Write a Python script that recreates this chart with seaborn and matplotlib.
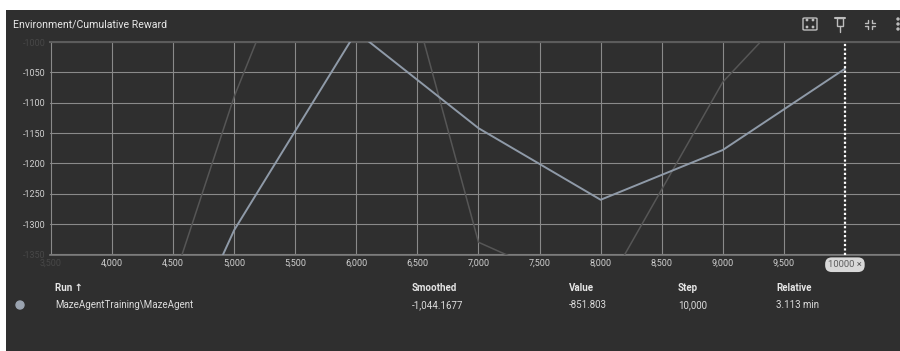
import pandas as pd
import seaborn as sns
import matplotlib.pyplot as plt
from matplotlib.patches import Rectangle, FancyBboxPatch, Ellipse
from matplotlib.lines import Line2D

# data
steps = [4000, 5000, 6000, 7000, 8000, 9000, 10000]
smoothed = [-1750, -1310, -983, -1142, -1260, -1178, -1044.1677]
raw = [-1700, -1090, -590, -1330, -1420, -1066, -851.803]
x_ticks = [3500, 4000, 4500, 5000, 5500, 6000, 6500, 7000, 7500, 8000, 8500, 9000, 9500]
y_ticks = [-1350, -1300, -1250, -1200, -1150, -1100, -1050, -1000]
table_header = ["Run \u2191", "Smoothed", "Value", "Step", "Relative"]
table_row = ["MazeAgentTraining\\MazeAgent", "-1,044.1677", "-851.803", "10,000", "3.113 min"]

df = pd.DataFrame({"step": steps, "smoothed": smoothed, "raw": raw})

sns.set_theme(style="dark")
plt.rcParams['font.family'] = ['Roboto', 'DejaVu Sans']

W, H = 900, 351
BG = "#2f2f2f"
GRID = "#8a8a8a"


def px(x, y):
    # pixel coords (top-left origin) -> figure fraction
    return x / W, 1 - y / H


def dot(x, y, r, color):
    fig.add_artist(Ellipse(px(x, y), 2 * r / W, 2 * r / H, transform=fig.transFigure,
                           color=color))


fig = plt.figure(figsize=(9, 3.51), dpi=100, facecolor="white")
fig.add_artist(Rectangle((6 / W, 0), 1, 1 - 10 / H, transform=fig.transFigure,
                         facecolor=BG, edgecolor="none", zorder=0))

ax = fig.add_axes([50 / W, 1 - 255 / H, 850 / W, 213 / H])
ax.set_facecolor(BG)

sns.lineplot(data=df, x="step", y="raw", ax=ax, color="#565656", lw=1.1, zorder=3)
sns.lineplot(data=df, x="step", y="smoothed", ax=ax, color="#8f9aa8", lw=1.4, zorder=4)

ax.set_xlim(3492, 10451)
ax.set_ylim(-1351, -1000.5)
ax.set_xticks(x_ticks)
ax.set_xticklabels([f"{t:,}" for t in x_ticks])
ax.set_yticks(y_ticks)
ax.set_yticklabels([str(t) for t in y_ticks])
ax.tick_params(axis="both", length=0, labelsize=6.5, colors="#d0d0d0", pad=3)
for lab in ax.get_xticklabels()[:1] + ax.get_yticklabels()[:1] + ax.get_yticklabels()[-1:]:
    lab.set_color("#474747")
ax.set_xlabel("")
ax.set_ylabel("")
ax.grid(True, color=GRID, lw=0.8)
for side in ["left", "right"]:
    ax.spines[side].set_visible(False)
ax.spines["top"].set_color("#5c5c5c")
ax.spines["top"].set_linewidth(1.5)
ax.spines["bottom"].set_color("#7a7a7a")
ax.spines["bottom"].set_linewidth(1.2)

# hover cursor at step 10000
ax.axvline(10000, color="white", ls=(0, (1, 1)), lw=1.6, zorder=5)
ax.text(10000, -1367, "10000 \u00d7", ha="center", va="center", fontsize=6.8,
        color="#5e5e5e", clip_on=False,
        bbox=dict(boxstyle="round,pad=0.3,rounding_size=0.7", fc="#d8d8d8", ec="none"))

# title
fig.text(*px(13, 24), "Environment/Cumulative Reward", fontsize=7.6, color="#e8e8e8",
         va="center", ha="left")

# toolbar icons
ic = "#bdbdbd"
fig.add_artist(FancyBboxPatch(px(803, 30), 14 / W, 12 / H, transform=fig.transFigure,
                              boxstyle="round,pad=0,rounding_size=0.002",
                              fc="none", ec=ic, lw=1))
for dx, dy in [(807, 20), (813, 20), (807, 27), (813, 27)]:
    dot(dx, dy, 0.7, ic)
fig.add_artist(Line2D([px(835, 18)[0], px(845, 18)[0]], [px(835, 18)[1]] * 2,
                      transform=fig.transFigure, color=ic, lw=1.5))
fig.add_artist(Rectangle(px(837, 26), 6 / W, 8 / H, transform=fig.transFigure,
                         fc="none", ec=ic, lw=1))
fig.add_artist(Line2D([px(840, 26)[0]] * 2, [px(840, 26)[1], px(840, 32)[1]],
                      transform=fig.transFigure, color=ic, lw=1))
for (x1, y1), (x2, y2), (x3, y3) in [((865, 23), (868, 23), (868, 20)),
                                      ((875, 23), (872, 23), (872, 20)),
                                      ((865, 26), (868, 26), (868, 29)),
                                      ((875, 26), (872, 26), (872, 29))]:
    fig.add_artist(Line2D([px(x1, y1)[0], px(x2, y2)[0], px(x3, y3)[0]],
                          [px(x1, y1)[1], px(x2, y2)[1], px(x3, y3)[1]],
                          transform=fig.transFigure, color=ic, lw=1))
for dy in [19, 24, 29]:
    dot(898, dy, 1.0, ic)

# run table
col_x = [55, 412, 569, 678, 776]
for x, h in zip(col_x, table_header):
    fig.text(*px(x, 288), h, fontsize=7, fontweight="bold", color="#e6e6e6",
             va="center", ha="left")
for x, v in zip(col_x, table_row):
    fig.text(*px(x, 305), v, fontsize=7, color="#dcdcdc", va="center", ha="left")
dot(20, 305, 4, "#9ba4b0")

plt.savefig("out.png", dpi=100, facecolor=fig.get_facecolor())
plt.close()
